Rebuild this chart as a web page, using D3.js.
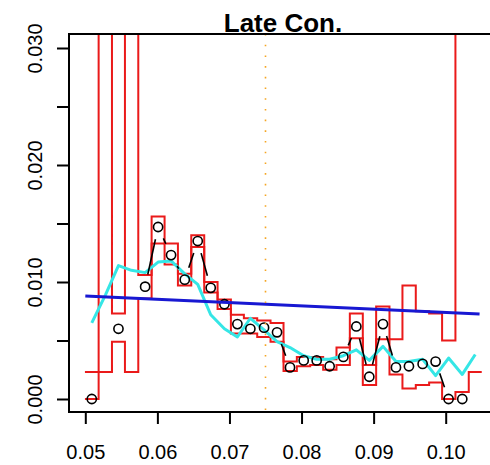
<!DOCTYPE html>
<html>
<head>
<meta charset="utf-8">
<script src="https://cdn.jsdelivr.net/npm/d3@7"></script>
<style>
body{margin:0;background:#fff}
text{font-family:"Liberation Sans",Arial,Helvetica,sans-serif}
</style>
</head>
<body>
<div id="chart"></div>
<script>
// bins (centres), estimates per bin, CI bounds, smoother and linear fit
const binMid=[0.0509,0.0528,0.0546,0.0564,0.0583,0.0601,0.0619,0.0638,0.0656,0.0674,
  0.0693,0.0711,0.0729,0.0748,0.0766,0.0784,0.0803,0.0821,0.0839,0.0858,
  0.0876,0.0894,0.0913,0.0931,0.0949,0.0968,0.0986,0.1004,0.1023,0.1041]
const estimate=[0.0000,null,0.0060,null,0.0096,0.0147,0.0123,0.0102,0.0135,0.0095,
  0.0081,0.0064,0.0060,0.0061,0.0057,0.0027,0.0033,0.0033,0.0028,0.0036,
  0.0062,0.0019,0.0064,0.0027,0.0028,0.0030,0.0032,0.0000,0.0000,null]
const offTop=0.05 // upper bound beyond the plotted range
const ciUpper=[0.0023,offTop,0.0073,offTop,0.0106,0.0156,0.0133,0.0107,0.0140,0.0100,
  0.0085,0.0072,0.0069,0.0067,0.0065,0.0032,0.0036,0.0036,0.0034,0.0044,
  0.0073,0.0029,0.0079,0.0051,0.0097,0.0075,0.0073,0.0050,offTop,offTop]
const ciLower=[0.0000,0.0023,0.0049,0.0023,0.0086,0.0133,0.0115,0.0097,0.0130,0.0091,
  0.0077,0.0056,0.0056,0.0053,0.0049,0.0024,0.0028,0.0029,0.0025,0.0029,
  0.0052,0.0012,0.0051,0.0021,0.0009,0.0012,0.0014,0.0000,0.0006,0.0023]
const smooth=[0.0065,0.0089,0.0114,0.0110,0.0108,0.0117,0.0118,0.0107,0.0098,0.0072,
  0.0060,0.0053,0.0069,0.0059,0.0049,0.0044,0.0037,0.0034,0.0034,0.0037,
  0.0042,0.0033,0.0045,0.0032,0.0032,0.0034,0.0020,0.0035,0.0021,0.0038]
const fitX=[0.0500,0.1047]
const fitY=[0.0088,0.00726]
const refX=0.075
const xTicks=[0.05,0.06,0.07,0.08,0.09,0.10]
const yTicks=[0,0.005,0.01,0.015,0.02,0.025,0.03]
const yLabelled=[0,0.01,0.02,0.03]

const width=490
const height=465
const plotL=69, plotT=34, plotR=509, plotB=412

const svg=d3.select("#chart")
  .append("svg")
  .attr("width",width)
  .attr("height",height)

const x=d3.scaleLinear().domain([0.05,0.10]).range([85.3,445.7])
const y=d3.scaleLinear().domain([0,0.03]).range([399,48])

svg.append("clipPath").attr("id","plot")
  .append("rect")
  .attr("x",plotL).attr("y",plotT)
  .attr("width",plotR-plotL).attr("height",plotB-plotT)

const g=svg.append("g").attr("clip-path","url(#plot)")

// bin edges from centres
const edges=[binMid[0]-(binMid[1]-binMid[0])/2]
for(let i=0;i<binMid.length-1;i++) edges.push((binMid[i]+binMid[i+1])/2)
edges.push(binMid[binMid.length-1]+(binMid[binMid.length-1]-binMid[binMid.length-2])/2)

const step=d3.line()
  .x(d=>x(d[0]))
  .y(d=>y(d[1]))
  .curve(d3.curveStepAfter)

const stepPts=vals=>{
  const p=vals.map((v,i)=>[edges[i],v])
  p.push([edges[edges.length-1],vals[vals.length-1]])
  return p
}

// CI step lines
;[ciUpper,ciLower].forEach(vals=>{
  g.append("path")
    .attr("d",step(stepPts(vals)))
    .attr("fill","none")
    .attr("stroke","#ea1a1a")
    .attr("stroke-width",2)
})

// smoother
g.append("path")
  .attr("d",d3.line().x((d,i)=>x(binMid[i])).y(d=>y(d))(smooth))
  .attr("fill","none")
  .attr("stroke","#35e6e6")
  .attr("stroke-width",3)
  .attr("stroke-linejoin","round")

// estimates: points joined with gapped segments (type "b")
const gap=12.5
const segs=[]
for(let i=0;i<estimate.length-1;i++){
  if(estimate[i]==null||estimate[i+1]==null) continue
  const x0=x(binMid[i]),y0=y(estimate[i]),x1=x(binMid[i+1]),y1=y(estimate[i+1])
  const len=Math.hypot(x1-x0,y1-y0)
  if(len<=2*gap) continue
  const ux=(x1-x0)/len,uy=(y1-y0)/len
  segs.push([x0+ux*gap,y0+uy*gap,x1-ux*gap,y1-uy*gap])
}
g.selectAll("line.seg")
  .data(segs)
  .join("line")
  .attr("class","seg")
  .attr("x1",d=>d[0]).attr("y1",d=>d[1])
  .attr("x2",d=>d[2]).attr("y2",d=>d[3])
  .attr("stroke","#000")
  .attr("stroke-width",1.6)

g.selectAll("circle")
  .data(estimate.map((v,i)=>({x:binMid[i],v})).filter(d=>d.v!=null))
  .join("circle")
  .attr("cx",d=>x(d.x))
  .attr("cy",d=>y(d.v))
  .attr("r",4.6)
  .attr("fill","none")
  .attr("stroke","#000")
  .attr("stroke-width",1.6)

// linear fit
g.append("path")
  .attr("d",d3.line().x((d,i)=>x(fitX[i])).y(d=>y(d))(fitY))
  .attr("stroke","#1818d2")
  .attr("stroke-width",3)

// reference line
g.append("line")
  .attr("x1",x(refX)).attr("x2",x(refX))
  .attr("y1",plotT).attr("y2",plotB)
  .attr("stroke","#f5a623")
  .attr("stroke-width",1.6)
  .attr("stroke-dasharray","1.6,9.1")

// box
svg.append("rect")
  .attr("x",plotL).attr("y",plotT)
  .attr("width",plotR-plotL).attr("height",plotB-plotT)
  .attr("fill","none")
  .attr("stroke","#000")
  .attr("stroke-width",2)

// X axis
const xAxis=svg.append("g")
  .attr("transform",`translate(0,${plotB})`)
  .call(d3.axisBottom(x).tickValues(xTicks).tickSize(12).tickPadding(21).tickFormat(d3.format(".2f")))
xAxis.select(".domain").remove()
xAxis.selectAll("line").attr("stroke-width",2)
xAxis.selectAll("text").style("font-size","20px").attr("fill","#000")

// Y axis
const yAxis=svg.append("g")
  .attr("transform",`translate(${plotL},0)`)
  .call(d3.axisLeft(y).tickValues(yTicks).tickSize(12)
    .tickFormat(d=>yLabelled.some(v=>Math.abs(v-d)<1e-9)?d3.format(".3f")(d):""))
yAxis.select(".domain").remove()
yAxis.selectAll("line").attr("stroke-width",2)
yAxis.selectAll("text")
  .attr("x",0).attr("y",0).attr("dy",null)
  .attr("text-anchor","middle")
  .attr("transform","translate(-27,0) rotate(-90)")
  .style("font-size","20px")
  .attr("fill","#000")

// title
svg.append("text")
  .attr("x",283)
  .attr("y",32)
  .attr("text-anchor","middle")
  .style("font-size","26px")
  .style("font-weight","bold")
  .text("Late Con.")
</script>
</body>
</html>
